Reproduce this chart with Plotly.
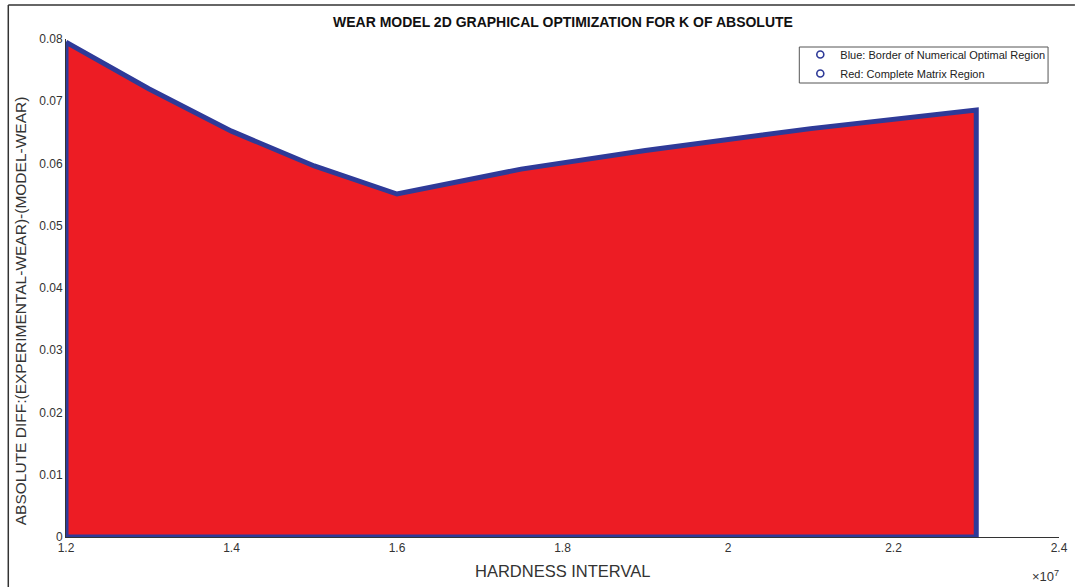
import plotly.graph_objects as go

# Data (hardness in absolute units, abs diff values)
hardness = [1.2e7, 1.3e7, 1.4e7, 1.5e7, 1.6e7, 1.75e7, 1.9e7, 2.1e7, 2.3e7]
abs_diff = [0.0795, 0.0720, 0.0652, 0.0596, 0.0551, 0.0591, 0.0621, 0.0656, 0.0686]

x_tickvals = [1.2e7, 1.4e7, 1.6e7, 1.8e7, 2.0e7, 2.2e7, 2.4e7]
x_ticktext = ["1.2", "1.4", "1.6", "1.8", "2", "2.2", "2.4"]
y_tickvals = [0, 0.01, 0.02, 0.03, 0.04, 0.05, 0.06, 0.07, 0.08]
y_ticktext = ["0", "0.01", "0.02", "0.03", "0.04", "0.05", "0.06", "0.07", "0.08"]

legend_labels = ["Blue: Border of Numerical Optimal Region", "Red: Complete Matrix Region"]

RED = "#ED1C24"
BLUE = "#2E3A98"
FONT = "Liberation Sans, Arial, sans-serif"

W, H = 1080, 587
L, R, T, B = 66, 16, 39, 50
PW, PH = W - L - R, H - T - B


def px(xp):
    return (xp - L) / PW


def py(yp):
    return (H - B - yp) / PH


# closed polygon: curve, down right side, along bottom, up left side
poly_x = hardness + [hardness[-1], hardness[0], hardness[0]]
poly_y = abs_diff + [0, 0, abs_diff[0]]

fig = go.Figure()
fig.add_trace(go.Scatter(
    x=poly_x, y=poly_y, mode="lines", fill="toself", fillcolor=RED,
    line=dict(color=BLUE, width=5), showlegend=False, hoverinfo="skip"))

for lab in legend_labels:
    fig.add_trace(go.Scatter(
        x=[None], y=[None], mode="markers", name=lab,
        marker=dict(symbol="circle-open", color=BLUE, size=7, line=dict(width=1.6, color=BLUE))))

fig.update_layout(
    width=W, height=H,
    margin=dict(l=L, r=R, t=T, b=B),
    paper_bgcolor="white", plot_bgcolor="white",
    font=dict(family=FONT, size=12, color="#333333"),
    showlegend=True,
    legend=dict(x=px(804), y=py(40), xanchor="left", yanchor="top",
                bgcolor="rgba(0,0,0,0)", bordercolor="rgba(0,0,0,0)", borderwidth=0,
                font=dict(size=11, color="#222222"), tracegroupgap=0,
                itemwidth=30),
    xaxis=dict(range=[1.2e7, 2.4e7], tickvals=x_tickvals, ticktext=x_ticktext,
               ticks="inside", ticklen=6, tickcolor="#333333", tickwidth=1,
               showline=True, linecolor="#333333", linewidth=1, showgrid=False,
               zeroline=False, layer="below traces", tickfont=dict(size=12, color="#333333")),
    yaxis=dict(range=[0, 0.08], tickvals=y_tickvals, ticktext=y_ticktext,
               ticks="inside", ticklen=6, tickcolor="#333333", tickwidth=1,
               showline=True, linecolor="#333333", linewidth=1, showgrid=False,
               zeroline=False, layer="below traces", tickfont=dict(size=12, color="#333333")),
    annotations=[
        dict(text="<b>WEAR MODEL 2D GRAPHICAL OPTIMIZATION FOR K OF ABSOLUTE</b>",
             xref="paper", yref="paper", x=0.5, y=py(22), xanchor="center",
             yanchor="middle", showarrow=False, font=dict(size=14, color="#111111")),
        dict(text="HARDNESS INTERVAL", xref="paper", yref="paper", x=0.5,
             y=py(571), xanchor="center", yanchor="middle", showarrow=False,
             font=dict(size=16.5, color="#333333")),
        dict(text="ABSOLUTE DIFF:(EXPERIMENTAL-WEAR)-(MODEL-WEAR)", xref="paper", yref="paper",
             x=px(20), y=py(311), xanchor="center", yanchor="middle", textangle=-90,
             showarrow=False, font=dict(size=15.5, color="#333333")),
        dict(text="×10<sup>7</sup>", xref="paper", yref="paper", x=px(1066),
             y=py(576), xanchor="right", yanchor="middle", showarrow=False,
             font=dict(size=13, color="#333333")),
    ],
    shapes=[
        # outer figure frame (top and left edges visible)
        dict(type="line", xref="paper", yref="paper", x0=px(8), x1=px(1080),
             y0=py(5), y1=py(5), line=dict(color="#333333", width=1.5)),
        dict(type="line", xref="paper", yref="paper", x0=px(8), x1=px(8),
             y0=py(5), y1=py(590), line=dict(color="#333333", width=1.5)),
        # legend box
        dict(type="rect", xref="paper", yref="paper", x0=px(803), x1=px(1053),
             y0=py(47), y1=py(83), line=dict(color="#555555", width=1), fillcolor="white",
             layer="above"),
    ],
)

fig.write_html("out.html", config={"displayModeBar": False})

# remove default body margin so the 1080x587 figure fits the window exactly
with open("out.html", "r", encoding="utf-8") as f:
    html = f.read()
html = html.replace("<body>", '<body style="margin:0;padding:0;overflow:hidden">', 1)
with open("out.html", "w", encoding="utf-8") as f:
    f.write(html)
